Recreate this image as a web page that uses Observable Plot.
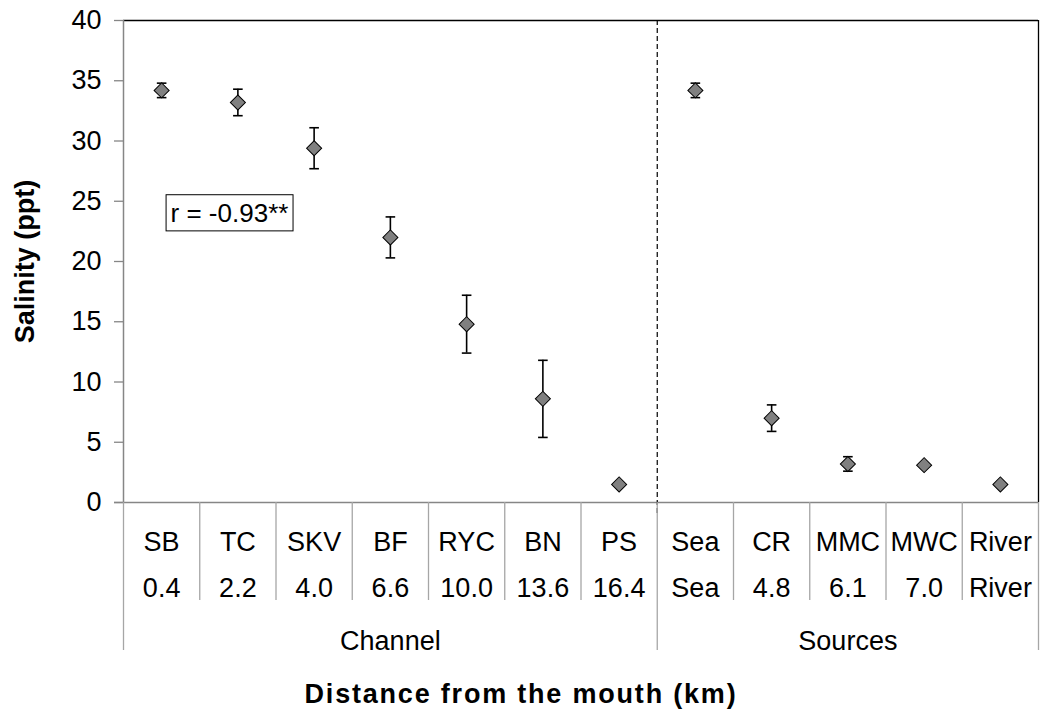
<!DOCTYPE html>
<html>
<head>
<meta charset="utf-8">
<script src="https://cdn.jsdelivr.net/npm/d3@7"></script>
<script src="https://cdn.jsdelivr.net/npm/@observablehq/plot@0.6"></script>
<style>
  html, body { margin: 0; padding: 0; background: #fff; }
  #chart svg { display: block; }
</style>
</head>
<body>
<div id="chart"></div>
<script>
// Sampling sites, ordered along the channel, then the water sources
const sites = ["SB", "TC", "SKV", "BF", "RYC", "BN", "PS", "Sea", "CR", "MMC", "MWC", "River"];
const distances = ["0.4", "2.2", "4.0", "6.6", "10.0", "13.6", "16.4", "Sea", "4.8", "6.1", "7.0", "River"];
const groups = ["Channel", "Channel", "Channel", "Channel", "Channel", "Channel", "Channel",
                "Sources", "Sources", "Sources", "Sources", "Sources"];
// Mean salinity (ppt) and standard deviation
const salinity = [34.2, 33.2, 29.4, 22.0, 14.8, 8.6, 1.5, 34.2, 7.0, 3.2, 3.1, 1.5];
const deviation = [0.6, 1.1, 1.7, 1.7, 2.4, 3.2, 0, 0.6, 1.1, 0.6, 0, 0];
const yTicks = [0, 5, 10, 15, 20, 25, 30, 35, 40];
const correlation = "r = -0.93**";
const yTitle = "Salinity (ppt)";
const xTitle = "Distance from the mouth (km)";

// One row per site; x is the slot centre on a 0..n index scale
const rows = sites.map((site, i) => ({
  site, distance: distances[i], group: groups[i],
  x: i + 0.5, value: salinity[i], sd: deviation[i]
}));
const withBars = rows.filter(d => d.sd > 0);

// Group spans (start/end index) for the lower label band
const groupNames = Array.from(new Set(groups));
const groupSpans = groupNames.map(g => {
  const idx = groups.map((v, i) => v === g ? i : -1).filter(i => i >= 0);
  return {name: g, start: idx[0], end: idx[idx.length - 1] + 1};
});
const groupEdges = Array.from(new Set(groupSpans.flatMap(s => [s.start, s.end])));
const slotEdges = d3.range(0, sites.length + 1).filter(i => !groupEdges.includes(i));
const splitAt = groupSpans[1].start;

// Horizontal cap used at both ends of an error bar
const cap = {
  draw(context, size) {
    const r = Math.sqrt(size / Math.PI);
    context.moveTo(-r, 0);
    context.lineTo(r, 0);
  }
};

const axisGray = "#868686";
const labelSize = 27;
const titleSize = 27;

const chart = Plot.plot({
  width: 1040,
  height: 711,
  marginLeft: 123,
  marginRight: 2,
  marginTop: 20,
  marginBottom: 209,
  style: {fontFamily: "'Liberation Sans', Arial, sans-serif", fontSize: labelSize + "px", background: "#fff", color: "#000"},
  x: {domain: [0, sites.length], axis: null},
  y: {domain: [0, 40], axis: null},
  marks: [
    // frame: grey axes on the left and bottom, dark border on top and right
    Plot.ruleY([40], {stroke: "#000", strokeWidth: 1.3}),
    Plot.ruleX([sites.length], {stroke: "#000", strokeWidth: 1.3}),
    Plot.axisY({ticks: yTicks, tickSize: 9, tickPadding: 13, fontSize: labelSize, stroke: axisGray, strokeWidth: 1.3, label: null}),
    Plot.ruleX([0], {stroke: axisGray, strokeWidth: 1.5}),
    Plot.ruleY([0], {stroke: axisGray, strokeWidth: 1.5, insetLeft: -9}),

    // divider between channel sites and sources
    Plot.ruleX([splitAt], {stroke: "#000", strokeWidth: 1.2, strokeDasharray: "5,3", insetBottom: -14}),

    // lower label band: slot dividers and group dividers
    Plot.ruleX(slotEdges, {y1: 0, y2: 0, insetBottom: -98, stroke: "#a6a6a6", strokeWidth: 1.3}),
    Plot.ruleX(groupEdges, {y1: 0, y2: 0, insetBottom: -148, stroke: "#a6a6a6", strokeWidth: 1.3}),
    Plot.text(rows, {x: "x", text: "site", frameAnchor: "bottom", lineAnchor: "middle", dy: 40, fontSize: labelSize}),
    Plot.text(rows, {x: "x", text: "distance", frameAnchor: "bottom", lineAnchor: "middle", dy: 86, fontSize: labelSize}),
    Plot.text(groupSpans, {x: d => (d.start + d.end) / 2, text: "name", frameAnchor: "bottom", lineAnchor: "middle", dy: 139, fontSize: labelSize}),

    // error bars
    Plot.ruleX(withBars, {x: "x", y1: d => d.value - d.sd, y2: d => d.value + d.sd, stroke: "#000", strokeWidth: 1.6}),
    Plot.dot(withBars, {x: "x", y: d => d.value + d.sd, symbol: cap, r: 4.8, stroke: "#000", strokeWidth: 1.6}),
    Plot.dot(withBars, {x: "x", y: d => d.value - d.sd, symbol: cap, r: 4.8, stroke: "#000", strokeWidth: 1.6}),

    // site means as diamonds
    Plot.dot(rows, {x: "x", y: "value", symbol: "square", rotate: 45, r: 6, fill: "#808080", stroke: "#000", strokeWidth: 1}),

    // correlation annotation
    Plot.rect([correlation], {x1: 0.565, x2: 2.23, y1: 22.5, y2: 25.5, fill: "#fff", stroke: "#000", strokeWidth: 1}),
    Plot.text([correlation], {x: 0.565, y: 24, text: d => d, textAnchor: "start", dx: 4, fontSize: labelSize - 1}),

    // axis titles
    Plot.text([yTitle], {text: d => d, frameAnchor: "left", textAnchor: "middle", lineAnchor: "middle", rotate: -90, dx: -98, fontSize: titleSize, fontWeight: "bold"}),
    Plot.text([xTitle], {text: d => d, frameAnchor: "bottom", textAnchor: "middle", lineAnchor: "middle", dx: -60, dy: 192, fontSize: titleSize, fontWeight: "bold"})
  ]
});

// the horizontal title is set a little looser
d3.select(chart).selectAll("text")
  .filter(function() { return this.textContent === xTitle; })
  .attr("letter-spacing", "1.8px");

document.getElementById("chart").appendChild(chart);
</script>
</body>
</html>
